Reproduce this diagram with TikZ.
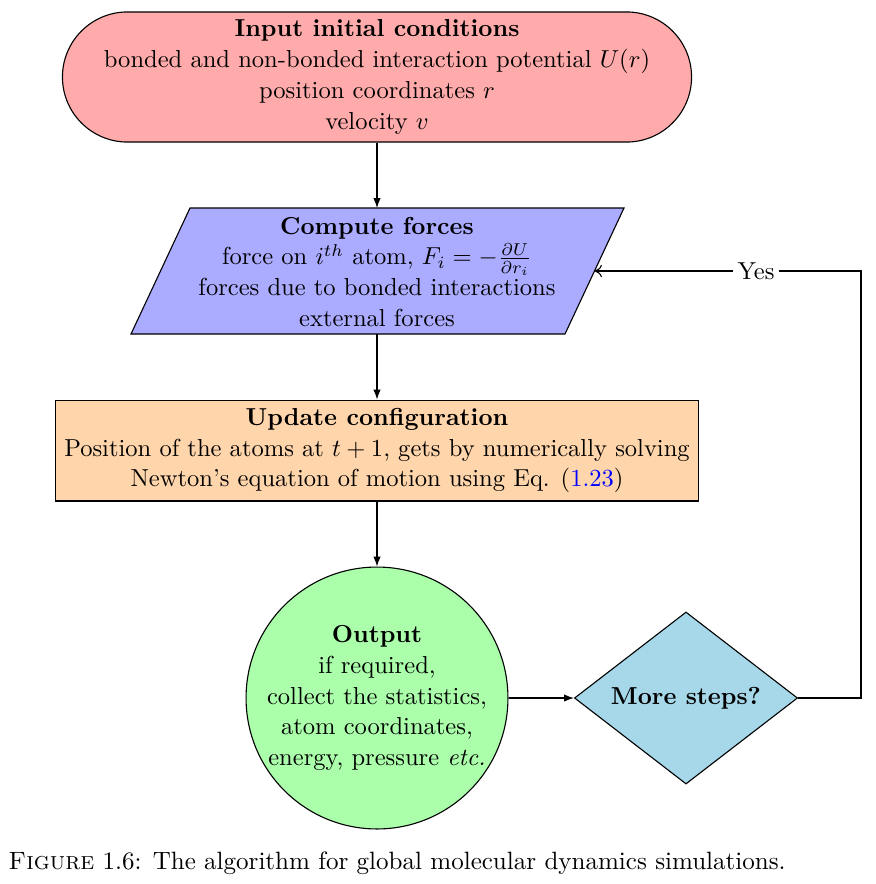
\documentclass[tikz,border=0pt]{standalone}
\usetikzlibrary{shapes.geometric,arrows.meta}
\definecolor{diacol}{RGB}{166,216,234}
\begin{document}
\begin{tikzpicture}[x=0.4074pt,y=-0.4074pt,
  every node/.style={font=\fontsize{10}{12.6}\selectfont},
  box/.style={draw,line width=0.45pt,align=center,inner sep=0pt},
  flow/.style={-{Latex[length=4pt,width=3pt]},line width=0.45pt},
  back/.style={-{To[length=3pt,width=5pt]},line width=0.45pt}]
\useasboundingbox (0,0) rectangle (875,884);
% start terminal
\node[box,fill=red!33,rounded corners=26.5pt,minimum width=256.3pt,minimum height=53pt] (start) at (377,77)
  {\textbf{Input initial conditions}\\ bonded and non-bonded interaction potential $U(r)$\\ position coordinates $r$\\ velocity $v$};
% parallelogram
\coordinate (pTL) at (190,208);
\coordinate (pTR) at (624,208);
\coordinate (pBR) at (565,334);
\coordinate (pBL) at (131,334);
\coordinate (pR) at (594.5,271);
\coordinate (pTop) at (377,208);
\coordinate (pBot) at (377,334);
\draw[fill=blue!33,line width=0.45pt] (pTL) -- (pTR) -- (pBR) -- (pBL) -- cycle;
\node[align=center,inner sep=0pt] (force) at (377,272)
  {\textbf{Compute forces}\\ force on $i^{th}$ atom, $F_i=-\frac{\partial U}{\partial r_i}$\\ forces due to bonded interactions\\ external forces};
% update
\node[box,fill=orange!33,minimum width=261.6pt,minimum height=41.1pt] (update) at (377,450.5)
  {\textbf{Update configuration}\\ Position of the atoms at $t+1$, gets by numerically solving\\ Newton's equation of motion using Eq. (\textcolor{blue}{1.23})};
% output
\node[box,circle,fill=green!33,minimum size=106.7pt,inner sep=-2pt] (out) at (377,698)
  {\textbf{Output}\\ if required,\\ collect the statistics,\\ atom coordinates,\\ energy, pressure \textit{etc.}};
% decision
\node[box,diamond,fill=diacol,minimum width=90.9pt,minimum height=70.1pt] (dec) at (686,698)
  {\textbf{More steps?}};
% connectors
\draw[flow] (start) -- (pTop);
\draw[flow] (pBot) -- (update);
\draw[flow] (update) -- (out);
\draw[flow] (out) -- (dec);
\coordinate (c1) at (861,698);
\coordinate (c2) at (861,271);
\draw[back] (dec.east) -- (c1) -- (c2) -- node[pos=0.394,fill=white,inner sep=2pt] (yes) {Yes} (pR);
% caption
\node[anchor=base west,inner sep=0pt,font=\fontsize{10.2}{12}\selectfont] (cap) at (8,869)
  {\textsc{Figure} 1.6: The algorithm for global molecular dynamics simulations.};
\end{tikzpicture}
\end{document}
